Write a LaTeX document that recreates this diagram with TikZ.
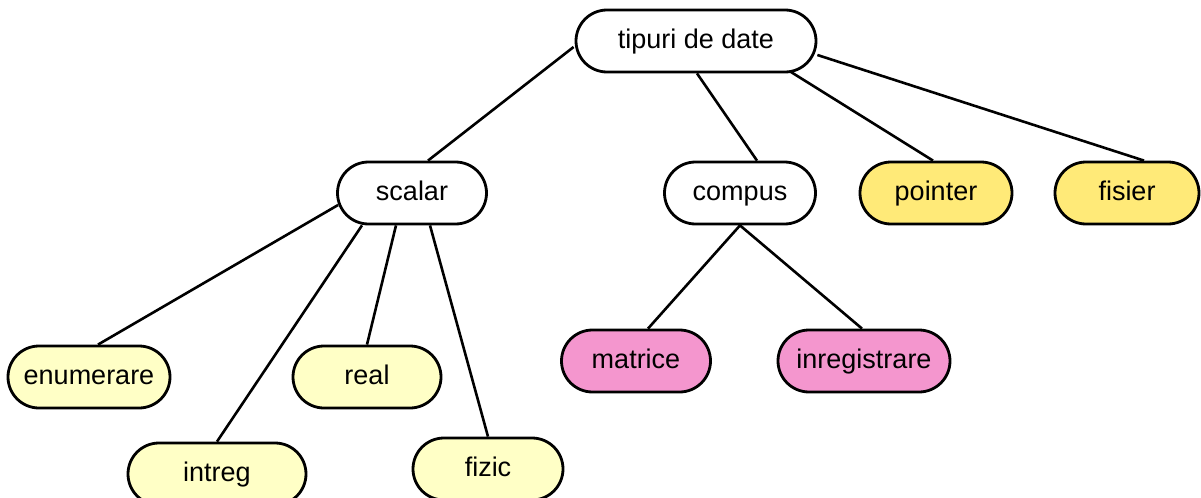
\documentclass[tikz,border=0pt]{standalone}
\usepackage{fontspec}
\setmainfont{Liberation Sans}
\usetikzlibrary{calc}

\definecolor{paleyellow}{RGB}{255,255,198}
\definecolor{sunyellow}{RGB}{255,234,120}
\definecolor{rosepink}{RGB}{244,150,206}

\begin{document}
\begin{tikzpicture}[
    x=0.5pt, y=-0.5pt,
    every node/.style={draw, line width=1.4pt, rounded corners=15.5pt,
        minimum height=31pt, inner sep=0pt, align=center,
        text height=9.6pt, text depth=2.6pt,
        font=\fontsize{13.5}{16}\selectfont},
    typebox/.style={fill=white},
    simplebox/.style={fill=paleyellow},
    refbox/.style={fill=sunyellow},
    structbox/.style={fill=rosepink},
    link/.style={line width=1.3pt},
]

  \useasboundingbox (0,0) rectangle (1201,498);

  % root and first level
  \node[typebox, minimum width=120pt] (tipuri) at (696,41) {tipuri de date};
  \node[typebox, minimum width=74.5pt] (scalar) at (412,193) {scalar};
  \node[typebox, minimum width=75.5pt] (compus) at (740,193) {compus};
  \node[refbox, minimum width=76pt] (pointer) at (936,193) {pointer};
  \node[refbox, minimum width=72pt] (fisier) at (1127,193) {fisier};

  % scalar types
  \node[simplebox, minimum width=81pt] (enumerare) at (89,377) {enumerare};
  \node[simplebox, minimum width=74pt] (real) at (367,377) {real};
  \node[simplebox, minimum width=89pt] (intreg) at (217,474) {intreg};
  \node[simplebox, minimum width=75pt] (fizic) at (488,469) {fizic};

  % composed types
  \node[structbox, minimum width=74.5pt] (matrice) at (636,361) {matrice};
  \node[structbox, minimum width=86pt] (inregistrare) at (864,361) {inregistrare};

  % connectors
  \draw[link] ($(tipuri.west)+(-1,6)$) -- ($(scalar.north)+(16,0)$);
  \draw[link] ($(tipuri.south)+(1,0)$) -- ($(compus.north)+(17,0)$);
  \draw[link] ($(tipuri.south)+(94,-2)$) -- ($(pointer.north)+(-3,0)$);
  \draw[link] ($(tipuri.east)+(0,14)$) -- ($(fisier.north)+(17,0)$);

  \draw[link] ($(scalar.west)+(2,12)$) -- ($(enumerare.north)+(9,0)$);
  \draw[link] ($(scalar.south)+(-50,0)$) -- (intreg.north);
  \draw[link] ($(scalar.south)+(-16,0)$) -- (real.north);
  \draw[link] ($(scalar.south)+(18,0)$) -- (fizic.north);

  \draw[link] (compus.south) -- ($(matrice.north)+(12,0)$);
  \draw[link] (compus.south) -- ($(inregistrare.north)+(-2,0)$);

\end{tikzpicture}
\end{document}
